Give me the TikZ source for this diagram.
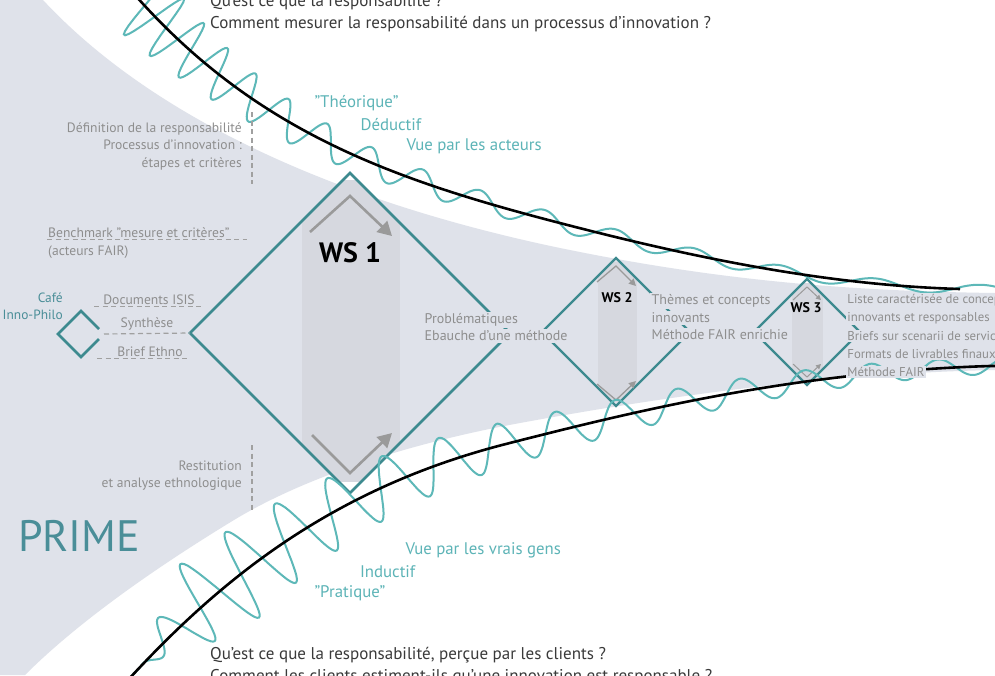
\documentclass[tikz,border=0pt]{standalone}
\usepackage{fontspec}
\setmainfont{PT Sans}
\usetikzlibrary{shapes.geometric,decorations,arrows.meta}

\definecolor{bggray}{HTML}{DFE2EA}
\definecolor{bandgray}{HTML}{D6D8DF}
\definecolor{wsteal}{HTML}{3D8A8F}
\definecolor{waveteal}{HTML}{5DB8B8}
\definecolor{labteal}{HTML}{5DB4B7}
\definecolor{primeteal}{HTML}{4A8E98}
\definecolor{txtgray}{HTML}{8E8E8E}
\definecolor{dashgray}{HTML}{A0A0A0}
\definecolor{arrgray}{HTML}{9A9A9A}
\definecolor{qgray}{HTML}{3A3A3A}

% wave whose amplitude and phase follow the distance \wavd along the path
\pgfdeclaredecoration{damped wave}{initial}{%
  \state{initial}[width=1.5pt, next state=initial]{%
    \pgfmathsetmacro\wavd{\pgfdecoratedcompleteddistance+1.5}%
    \pgfmathsetmacro\waveoff{(\waveenv)*sin(\wavephase)}%
    \pgfpathlineto{\pgfqpoint{1.5pt}{\waveoff pt}}%
  }%
  \state{final}{\pgfpathlineto{\pgfpointdecoratedpathlast}}%
}

\tikzset{
  wave env/.code={\def\waveenv{#1}},
  wave phase/.code={\def\wavephase{#1}},
  wave/.style={draw=waveteal, line width=2pt, decorate, decoration={damped wave}},
  blackline/.style={draw=black, line width=2.6pt},
  wsbox/.style={diamond, draw=wsteal, line width=2.6pt, inner sep=0pt, outer sep=0pt, aspect=1},
  wslabel/.style={text=black, font=\bfseries\fontsize{14}{14}\selectfont},
  graylab/.style={text=txtgray, font=\fontsize{13.6}{17.5}\selectfont, inner sep=1pt},
  midlab/.style={text=txtgray, font=\fontsize{14}{16}\selectfont, fill=bggray, inner sep=1.5pt, anchor=west},
  outlab/.style={text=txtgray, font=\fontsize{12.8}{14}\selectfont, fill=bggray, inner sep=1.2pt, anchor=west},
  tealab/.style={text=labteal, font=\fontsize{16.8}{17}\selectfont, anchor=west},
  question/.style={text=qgray, font=\fontsize{17}{20}\selectfont, anchor=base west, inner sep=0pt},
  dashline/.style={draw=dashgray, line width=1.2pt, dash pattern=on 5pt off 3.5pt},
  chev/.style={draw=arrgray, line width=2.6pt, -{Triangle[length=14pt,width=15pt]}},
  chevsmall/.style={draw=arrgray, line width=1.3pt, -{Triangle[length=7pt,width=7pt]}},
  band/.style={fill=bandgray}
}

\begin{document}
\begin{tikzpicture}[x=1pt, y=-1pt]
	\useasboundingbox (0,0) rectangle (995,675);
	\clip (0,0) rectangle (995,675);
	\fill[white] (0,0) rectangle (995,675);
	% funnel
	\fill[bggray] (0,0) -- (43,0) .. controls (150,115) and (330,200) .. (560,248) .. controls (720,281) and (850,291) .. (995,293)
		-- (995,370) .. controls (850,373) and (700,390) .. (520,423) .. controls (400,445) and (300,480) .. (234,520)
		.. controls (160,565) and (80,620) .. (25,675) -- (0,675) -- cycle;
	% bands inside the workshops
	\begin{scope}
		\clip (350,173) -- (510,333) -- (350,493) -- (190,333) -- cycle;
		\fill[band] (302,180) rectangle (400,482);
	\end{scope}
	\begin{scope}
		\clip (616,258) -- (690,332) -- (616,406) -- (542,332) -- cycle;
		\fill[band] (598,262) rectangle (637,402);
	\end{scope}
	\begin{scope}
		\clip (807,279) -- (860,332) -- (807,385) -- (754,332) -- cycle;
		\fill[band] (792,283) rectangle (823,381);
	\end{scope}
	\node[wsbox, minimum size=320] (ws1) at (350,333) {};
	\node[wsbox, minimum size=148, line width=2.3pt] (ws2) at (616,332) {};
	\node[wsbox, minimum size=106, line width=2.3pt] (ws3) at (807,332) {};
	\node[diamond, minimum size=46, inner sep=0pt, outer sep=0pt] (cafe) at (81,334) {};
	\draw[wsteal, line width=2.6pt] ([shift={(-5,-5)}]cafe.east) -- (cafe.north) -- (cafe.west) -- (cafe.south) -- ([shift={(-5,5)}]cafe.east);
	% chevrons
	\draw[chev] (310,232) -- (350,196) -- (392,236);
	\draw[chev] (312,435) -- (350,473) -- (392,433);
	\draw[chevsmall] (597,282) -- (616,266) -- (636,286);
	\draw[chevsmall] (597,384) -- (616,400) -- (636,381);
	\draw[chevsmall, line width=1pt, -{Triangle[length=5pt,width=5pt]}] (793,300) -- (807,287) -- (821,300);
	\draw[chevsmall, line width=1pt, -{Triangle[length=5pt,width=5pt]}] (793,364) -- (807,377) -- (821,364);
	% waves and curves
	\draw[wave, wave env={4+34*exp(-\wavd/240)}, wave phase={4000*ln(1+\wavd/311)}]
		(135,-5) .. controls (250,125) and (380,175) .. (537,217) .. controls (680,255) and (820,285) .. (960,289) -- (1000,290);
	\draw[wave, wave env={min(1,max(0,(\wavd-20)/100))*(3+46*exp(-max(0,\wavd-110)/380))}, wave phase={9000*ln(1+\wavd/2500)*2}]
		(128,680) .. controls (220,580) and (330,490) .. (502,445) .. controls (650,407) and (800,372) .. (990,366) -- (1000,366);
	\draw[blackline] (135,-5) .. controls (250,125) and (380,175) .. (537,217) .. controls (680,255) and (820,285) .. (960,289);
	\draw[blackline] (128,680) .. controls (220,580) and (330,490) .. (502,445) .. controls (650,407) and (800,372) .. (990,366) -- (1000,366);
	% workshop labels
	\node[wslabel, font=\bfseries\fontsize{28}{28}\selectfont] (ws1lbl) at (350,253) {WS 1};
	\node[wslabel] (ws2lbl) at (617,298) {WS 2};
	\node[wslabel] (ws3lbl) at (806,308) {WS 3};
	\node[midlab] (prob) at (423,320) {Problématiques};
	\node[midlab] (ebauche) at (423,336) {Ebauche d'une méthode};
	\node[midlab] (themes) at (650,301) {Thèmes et concepts};
	\node[midlab] (innov) at (650,318) {innovants};
	\node[midlab] (fairplus) at (650,335) {Méthode FAIR enrichie};
	\foreach \txt [count=\i] in {Liste caractérisée de concepts, innovants et responsables, Briefs sur scenarii de services, Formats de livrables finaux, Méthode FAIR}
		\node[outlab] (out\i) at (846,282+18*\i) {\txt};
	% left side
	\node[graylab, align=right, anchor=east] (defn) at (243,146) {Définition de la responsabilité\\Processus d'innovation :\\étapes et critères};
	\draw[dashline] (252,112) -- (252,184);
	\node[graylab, anchor=west] (bench) at (47,233) {Benchmark "mesure et critères"};
	\node[graylab, anchor=west] (benchsub) at (47,252) {(acteurs FAIR)};
	\draw[dashline] (bench.south west) -- ([xshift=16]bench.south east);
	\node[graylab] (docs) at (149,300) {Documents ISIS};
	\draw[dashline] ([xshift=-8]docs.south west) -- ([xshift=8]docs.south east);
	\draw[dashline] (cafe.east) -- (ws1.west) node[graylab, midway, above=2pt] (synth) {Synthèse};
	\node[graylab] (brief) at (150,352) {Brief Ethno};
	\draw[dashline] ([xshift=-19]brief.south west) -- ([xshift=5]brief.south east);
	\node[graylab, align=right, anchor=east] (restit) at (243,475.5) {Restitution\\et analyse ethnologique};
	\draw[dashline] (252,445) -- (252,512);
	\node[text=primeteal, font=\fontsize{13.4}{17}\selectfont, align=right, anchor=east, inner sep=1pt] (cafelbl) at (64,306.5) {Café\\Inno-Philo};
	\node[text=primeteal, font=\fontsize{44}{44}\selectfont, anchor=west, inner sep=0pt] (prime) at (18,536) {PRIME};
	% teal labels
	\foreach \txt [count=\i from 0] in {"Théorique", Déductif, Vue par les acteurs}
		\node[tealab] (top\i) at (311+46*\i,103+21.5*\i) {\txt};
	\foreach \txt [count=\i from 0] in {"Pratique", Inductif, Vue par les vrais gens}
		\node[tealab] (bot\i) at (311+45.5*\i,593-21.5*\i) {\txt};
	% questions
	\node[question] (q1) at (210,6) {Qu'est ce que la responsabilité ?};
	\node[question] (q2) at (210,28) {Comment mesurer la responsabilité dans un processus d'innovation ?};
	\node[question] (q3) at (210,659) {Qu'est ce que la responsabilité, perçue par les clients ?};
	\node[question] (q4) at (210,681) {Comment les clients estiment-ils qu'une innovation est responsable ?};
\end{tikzpicture}
\end{document}
